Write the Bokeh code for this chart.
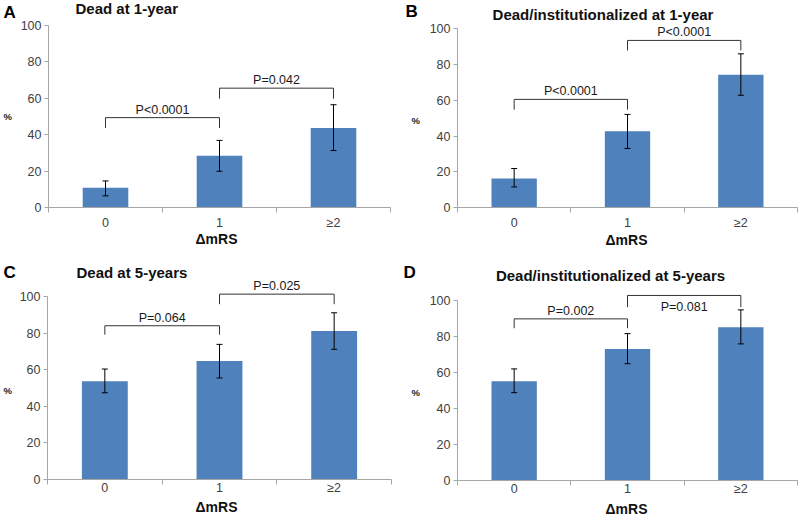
from bokeh.plotting import figure
from bokeh.models import (Range1d, LinearAxis, FixedTicker, Whisker, TeeHead,
                          ColumnDataSource, GridBox)
from bokeh.embed import file_html
from bokeh.resources import INLINE
from bokeh.core.properties import value

# ---------------- data ----------------
categories = ["0", "1", "≥2"]
letters = ["A", "B", "C", "D"]
titles = ["Dead at 1-year", "Dead/institutionalized at 1-year",
          "Dead at 5-years", "Dead/institutionalized at 5-years"]
y_label = "%"
x_label = "ΔmRS"
y_ticks = [0, 20, 40, 60, 80, 100]

pct_A = [10.8, 28.5, 43.7]
lo_A = [6.4, 19.9, 31.3]
hi_A = [14.6, 36.9, 56.5]
p_A = ["P<0.0001", "P=0.042"]
bracket_A = [49.4, 65.6]
leg_A = [43.7, 59.8]

pct_B = [16.2, 42.6, 74.3]
lo_B = [11.5, 33.0, 62.8]
hi_B = [21.8, 52.1, 86.0]
p_B = ["P<0.0001", "P<0.0001"]
bracket_B = [60.5, 93.5]
leg_B = [54.7, 87.9]

pct_C = [53.8, 64.9, 81.3]
lo_C = [47.5, 55.6, 71.3]
hi_C = [60.5, 74.0, 91.3]
p_C = ["P=0.064", "P=0.025"]
bracket_C = [84.2, 101.5]
leg_C = [79.3, 96.0]

pct_D = [55.1, 73.1, 85.2]
lo_D = [48.8, 64.9, 75.9]
hi_D = [62.0, 81.6, 94.8]
p_D = ["P=0.002", "P=0.081"]
bracket_D = [89.8, 102.8]
leg_D = [84.6, 96.3]

panels = [
    (pct_A, lo_A, hi_A, p_A, bracket_A, leg_A),
    (pct_B, lo_B, hi_B, p_B, bracket_B, leg_B),
    (pct_C, lo_C, hi_C, p_C, bracket_C, leg_C),
    (pct_D, lo_D, hi_D, p_D, bracket_D, leg_D),
]

# ---------------- styles / layout ----------------
W = 400
H_TOP, H_BOT = 260, 260
FONT = "Liberation Sans"
BAR = "#4F81BD"
AXIS = "#a6a6a6"
TXT = "#404040"

geo = [
    dict(h=H_TOP, left=48, right=10, top=16, bottom=53, ymax=105, standoff=3, poff=[-8, -8]),
    dict(h=H_TOP, left=57, right=3, top=14, bottom=53, ymax=108, standoff=3, poff=[-8, -8]),
    dict(h=H_BOT, left=47, right=9, top=9, bottom=41, ymax=115, standoff=-4, poff=[-8, -8]),
    dict(h=H_BOT, left=57, right=3, top=22, bottom=40, ymax=110, standoff=-4, poff=[-8, 12]),
]

# overlay text positions (pixels from top-left of the whole layout)
ov = [
    dict(letter=(3, 12), title=(75, 8, "left"), pct=(3, 116), xlab=(216, 238.5)),
    dict(letter=(405, 11), title=(602.5, 14, "center"), pct=(411, 120), xlab=(626, 239)),
    dict(letter=(3, 272), title=(76, 272, "left"), pct=(3, 390), xlab=(216, 506)),
    dict(letter=(403, 272), title=(610, 275, "center"), pct=(411, 391.5), xlab=(626, 508)),
]


def no_align(p):
    if "frame_align" in p.properties():
        p.frame_align = False


def make_panel(i):
    pct, lo, hi, ptxt, br, leg = panels[i]
    g = geo[i]
    n = len(categories)
    xs = [k + 0.5 for k in range(n)]

    p = figure(width=W, height=g["h"], output_backend="svg", toolbar_location=None,
               x_range=Range1d(0, n), y_range=Range1d(0, g["ymax"]),
               x_axis_location=None, y_axis_location=None, title=None,
               min_border_left=g["left"], min_border_right=g["right"],
               min_border_top=g["top"], min_border_bottom=g["bottom"])
    no_align(p)
    p.outline_line_color = None
    p.grid.visible = False
    p.background_fill_color = "white"
    p.border_fill_color = "white"

    yax = LinearAxis(ticker=FixedTicker(ticks=y_ticks), bounds=(0, 100))
    yax.axis_line_color = AXIS
    yax.major_tick_line_color = AXIS
    yax.major_tick_out = 4
    yax.major_tick_in = 0
    yax.minor_tick_line_color = None
    yax.major_label_standoff = 3
    yax.major_label_text_font = FONT
    yax.major_label_text_font_size = "12.5px"
    yax.major_label_text_color = TXT
    p.add_layout(yax, "left")

    xax = LinearAxis(ticker=FixedTicker(ticks=xs, minor_ticks=list(range(n + 1))))
    xax.major_label_overrides = {x: c for x, c in zip(xs, categories)}
    xax.axis_line_color = AXIS
    xax.major_tick_line_color = None
    xax.major_tick_out = 0
    xax.major_tick_in = 0
    xax.minor_tick_line_color = AXIS
    xax.minor_tick_out = 5
    xax.minor_tick_in = 0
    xax.major_label_standoff = g["standoff"]
    xax.major_label_text_font = FONT
    xax.major_label_text_font_size = "12.5px"
    xax.major_label_text_color = TXT
    p.add_layout(xax, "below")

    src = ColumnDataSource(dict(x=xs, top=pct, lo=lo, hi=hi))
    p.vbar(x="x", top="top", width=0.4, bottom=0, source=src,
           fill_color=BAR, line_color=None)
    wh = Whisker(base="x", upper="hi", lower="lo", source=src, level="overlay",
                 line_color="black", line_width=1,
                 upper_head=TeeHead(size=6, line_color="black", line_width=1),
                 lower_head=TeeHead(size=6, line_color="black", line_width=1))
    p.add_layout(wh)

    bx0 = xs[:-1]
    bx1 = xs[1:]
    mids = [(a + b) / 2 for a, b in zip(bx0, bx1)]
    bsrc = ColumnDataSource(dict(x0=bx0, x1=bx1, y=br, leg=leg, mid=mids,
                                 txt=ptxt, off=g["poff"]))
    for a, b, c, d in (("x0", "y", "x1", "y"), ("x0", "leg", "x0", "y"), ("x1", "leg", "x1", "y")):
        p.segment(x0=a, y0=b, x1=c, y1=d, source=bsrc, line_color="#333333", line_width=1)
    p.text(x="mid", y="y", text="txt", y_offset="off", source=bsrc,
           text_align="center", text_baseline="middle",
           text_font=value(FONT), text_font_size="12.5px", text_color="#1a1a1a")
    return p


figs = [make_panel(i) for i in range(4)]

# transparent overlay carrying panel letters, titles and axis titles
TW, TH = 2 * W, H_TOP + H_BOT
over = figure(width=TW, height=TH, output_backend="svg", toolbar_location=None,
              x_range=Range1d(0, TW), y_range=Range1d(TH, 0),
              x_axis_location=None, y_axis_location=None, title=None,
              min_border=0, min_border_left=0, min_border_right=0,
              min_border_top=0, min_border_bottom=0)
no_align(over)
over.grid.visible = False
over.outline_line_color = None
over.background_fill_alpha = 0
over.border_fill_alpha = 0


def otext(xs, ys, texts, size, align, color="black"):
    over.text(x=xs, y=ys, text=texts, text_align=align, text_baseline="middle",
              text_font=value(FONT), text_font_size=size, text_font_style="bold",
              text_color=color)


otext([o["letter"][0] for o in ov], [o["letter"][1] for o in ov], letters, "17px", "left")
for al in ("left", "center"):
    idx = [k for k, o in enumerate(ov) if o["title"][2] == al]
    otext([ov[k]["title"][0] for k in idx], [ov[k]["title"][1] for k in idx],
          [titles[k] for k in idx], "15px", al, color="#111111")
otext([o["pct"][0] for o in ov], [o["pct"][1] for o in ov], [y_label] * 4, "9.5px", "left",
      color="#222222")
otext([o["xlab"][0] for o in ov], [o["xlab"][1] for o in ov], [x_label] * 4, "14px", "center",
      color="#111111")

grid = GridBox(children=[(figs[0], 0, 0), (figs[1], 0, 1), (figs[2], 1, 0), (figs[3], 1, 1),
                         (over, 0, 0, 2, 2)])

open("out.html", "w").write(file_html(grid, INLINE))
